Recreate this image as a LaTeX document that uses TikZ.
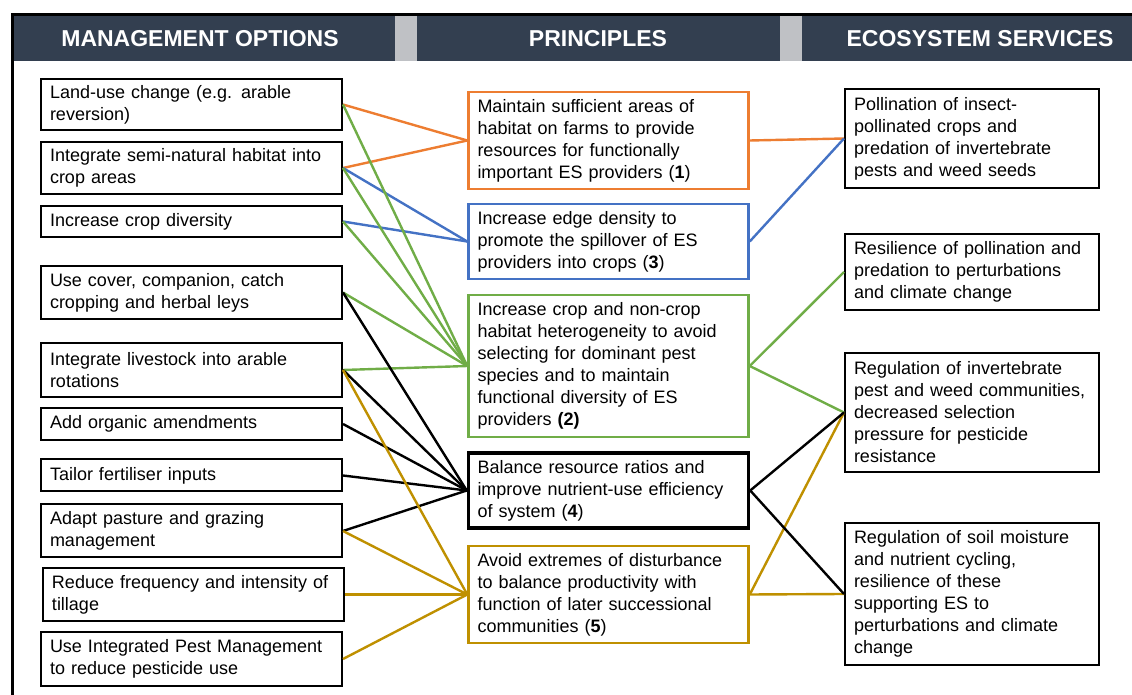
\documentclass[tikz,border=0pt]{standalone}
\usepackage{fontspec}
\setmainfont{Liberation Sans}
\definecolor{hdrNavy}{HTML}{333F50}
\definecolor{hdrGray}{HTML}{BFC1C5}
\definecolor{cOrange}{HTML}{ED7D31}
\definecolor{cBlue}{HTML}{4472C4}
\definecolor{cGreen}{HTML}{70AD47}
\definecolor{cGold}{HTML}{BF9000}
\tikzset{
    boxtext/.style={align=left, inner xsep=4.5pt, inner ysep=0pt, font=\fontsize{9}{11}\selectfont},
    optbox/.style={boxtext, draw=black, line width=1pt, fill=white, minimum width=150.5pt, text width=141.5pt},
    prinbox/.style={boxtext, line width=1.25pt, fill=white, minimum width=140pt, text width=131pt},
    servbox/.style={boxtext, draw=black, line width=1pt, fill=white, minimum width=127pt, text width=118pt},
    link/.style={line width=1.2pt},
    hdrtext/.style={text=white, font=\fontsize{11.5}{13}\selectfont\bfseries},
}

\begin{document}
\begin{tikzpicture}[x=0.5pt, y=-0.5pt]
    \newcommand\posM{191.5}
    \newcommand\posP{608.5}
    \newcommand\posS{972}

    \useasboundingbox (0,0) rectangle (1132,695);

    \fill[hdrNavy] (13,16) rectangle (1132,61);
    \fill[hdrGray] (395,16) rectangle (417,61);
    \fill[hdrGray] (780,16) rectangle (802,61);
    \draw[line width=1.5pt] (12.5,695) -- (12.5,14.5) -- (1132,14.5);

    \node[hdrtext] (hM) at (200, 38.5){MANAGEMENT OPTIONS};
    \node[hdrtext] (hP) at (598, 38.5){PRINCIPLES};
    \node[hdrtext] (hS) at (980, 38.5){ECOSYSTEM SERVICES};

    \node[optbox, minimum height=25.5pt] (M1) at (\posM, 104.5){Land-use change (e.g. arable\\reversion)};
    \node[optbox, minimum height=26pt] (M2) at (\posM, 168){Integrate semi-natural habitat into\\crop areas};
    \node[optbox, minimum height=15.5pt] (M3) at (\posM, 221.5){Increase crop diversity};
    \node[optbox, minimum height=26.5pt] (M4) at (\posM, 292.5){Use cover, companion, catch\\cropping and herbal leys};
    \node[optbox, minimum height=27pt] (M5) at (\posM, 370){Integrate livestock into arable\\rotations};
    \node[optbox, minimum height=16pt] (M6) at (\posM, 424){Add organic amendments};
    \node[optbox, minimum height=16pt] (M7) at (\posM, 475.5){Tailor fertiliser inputs};
    \node[optbox, minimum height=26.5pt] (M8) at (\posM, 531){Adapt pasture and grazing\\management};
    \node[optbox, minimum height=26.5pt] (M9) at (\posM + 2, 594.5){Reduce frequency and intensity of\\tillage};
    \node[optbox, minimum height=27pt] (M10) at (\posM, 659){Use Integrated Pest Management\\to reduce pesticide use};

    \node[prinbox, draw=cOrange, minimum height=48.5pt] (P1) at (\posP, 140.5){Maintain sufficient areas of\\habitat on farms to provide\\resources for functionally\\important ES providers (\textbf{1})};
    \node[prinbox, draw=cBlue, minimum height=37.5pt] (P3) at (\posP, 241.5){Increase edge density to\\promote the spillover of ES\\providers into crops (\textbf{3})};
    \node[prinbox, draw=cGreen, minimum height=71pt] (P2) at (\posP, 366){Increase crop and non-crop\\habitat heterogeneity to avoid\\selecting for dominant pest\\species and to maintain\\functional diversity of ES\\providers \textbf{(2)}};
    \node[prinbox, draw=black, line width=1.75pt, minimum height=37.5pt] (P4) at (\posP, 490.5){Balance resource ratios and\\improve nutrient-use efficiency\\of system (\textbf{4})};
    \node[prinbox, draw=cGold, minimum height=48.5pt] (P5) at (\posP, 594.5){Avoid extremes of disturbance\\to balance productivity with\\function of later successional\\communities (\textbf{5})};

    \node[servbox, minimum height=49.5pt] (S1) at (\posS, 138.5){Pollination of insect-\\pollinated crops and\\predation of invertebrate\\pests and weed seeds};
    \node[servbox, minimum height=38pt] (S2) at (\posS, 272){Resilience of pollination and\\predation to perturbations\\and climate change};
    \node[servbox, minimum height=59.5pt] (S3) at (\posS, 412.5){Regulation of invertebrate\\pest and weed communities,\\decreased selection\\pressure for pesticide\\resistance};
    \node[servbox, minimum height=71pt] (S4) at (\posS, 594){Regulation of soil moisture\\and nutrient cycling,\\resilience of these\\supporting ES to\\perturbations and climate\\change};

    \draw[link, cOrange] (M1.east) -- (P1.west);
    \draw[link, cOrange] (M2.east) -- (P1.west);
    \draw[link, cBlue] (M2.east) -- (P3.west);
    \draw[link, cBlue] (M3.east) -- (P3.west);
    \draw[link, cGreen] (M1.east) -- (P2.west);
    \draw[link, cGreen] (M2.east) -- (P2.west);
    \draw[link, cGreen] (M3.east) -- (P2.west);
    \draw[link, cGreen] (M4.east) -- (P2.west);
    \draw[link, cGreen] (M5.east) -- (P2.west);
    \draw[link, black] (M4.east) -- (P4.west);
    \draw[link, black] (M5.east) -- (P4.west);
    \draw[link, black] (M6.east) -- (P4.west);
    \draw[link, black] (M7.east) -- (P4.west);
    \draw[link, black] (M8.east) -- (P4.west);
    \draw[link, cGold] (M5.east) -- (P5.west);
    \draw[link, cGold] (M8.east) -- (P5.west);
    \draw[link, cGold] (M9.east) -- (P5.west);
    \draw[link, cGold] (M10.east) -- (P5.west);

    \draw[link, cOrange] (P1.east) -- (S1.west);
    \draw[link, cBlue] (P3.east) -- (S1.west);
    \draw[link, cGreen] (P2.east) -- (S2.west);
    \draw[link, cGreen] (P2.east) -- (S3.west);
    \draw[link, cGold] (P5.east) -- (S3.west);
    \draw[link, cGold] (P5.east) -- (S4.west);
    \draw[link, black] (P4.east) -- (S3.west);
    \draw[link, black] (P4.east) -- (S4.west);
\end{tikzpicture}
\end{document}
